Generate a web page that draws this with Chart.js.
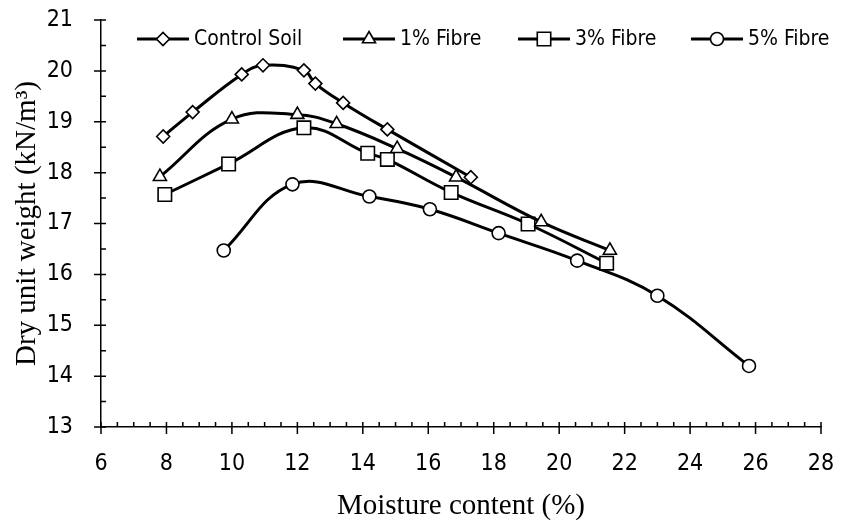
<!DOCTYPE html>
<html>
<head>
<meta charset="utf-8">
<script src="https://cdn.jsdelivr.net/npm/chart.js@4.4.0/dist/chart.umd.min.js"></script>
<style>
  html, body { margin: 0; padding: 0; background: #fff; }
  #wrap { width: 843px; height: 524px; }
</style>
</head>
<body>
<div id="wrap"><canvas id="chart" width="843" height="524"></canvas></div>
<script>
// series
const seriesNames = ['Control Soil', '1% Fibre', '3% Fibre', '5% Fibre'];

const controlMoisture = [7.9, 8.8, 10.3, 10.95, 12.2, 12.55, 13.4, 14.75, 17.3];
const controlDensity = [18.71, 19.19, 19.93, 20.11, 20.01, 19.75, 19.37, 18.85, 17.91];

const fibre1Moisture = [7.8, 10.0, 12.0, 13.2, 15.05, 16.85, 19.45, 21.55];
const fibre1Density = [17.92, 19.05, 19.14, 18.96, 18.47, 17.91, 17.03, 16.47];

const fibre3Moisture = [7.95, 9.9, 12.2, 14.15, 14.75, 16.7, 19.05, 21.45];
const fibre3Density = [17.57, 18.17, 18.88, 18.38, 18.26, 17.61, 16.99, 16.22];

const fibre5Moisture = [9.75, 11.85, 14.2, 16.05, 18.15, 20.55, 23.0, 25.8];
const fibre5Density = [16.47, 17.77, 17.53, 17.28, 16.81, 16.27, 15.58, 14.2];

const xTicks = [6, 8, 10, 12, 14, 16, 18, 20, 22, 24, 26, 28];
const yTicks = [13, 14, 15, 16, 17, 18, 19, 20, 21];

const pointStyles = ['rectRot', 'triangle', 'rect', 'circle'];
const pointRadii = [6.5, 7.5, 9.5, 6.5];

const TICK_FONT = { family: "'Liberation Sans Narrow', 'DejaVu Sans Condensed', sans-serif", size: 23 };
const LEGEND_FONT = "21px 'Liberation Sans Narrow', 'DejaVu Sans Condensed', sans-serif";
const TITLE_FONT = { family: "'Liberation Serif', 'Times New Roman', serif", size: 29 };

const pairUp = (xs, ys) => xs.map((x, i) => ({ x, y: ys[i] }));

const allSeries = [
  pairUp(controlMoisture, controlDensity),
  pairUp(fibre1Moisture, fibre1Density),
  pairUp(fibre3Moisture, fibre3Density),
  pairUp(fibre5Moisture, fibre5Density),
];

const datasets = allSeries.map((data, i) => ({
  label: seriesNames[i],
  data,
  borderColor: '#000',
  borderWidth: 3,
  backgroundColor: '#fff',
  pointStyle: pointStyles[i],
  pointRadius: pointRadii[i],
  pointBorderWidth: 1.6,
  pointBackgroundColor: '#fff',
  pointBorderColor: '#000',
  tension: 0.4,
  fill: false,
}));

// tick marks: majors cross the axis, minors sit inside
const axisTicks = {
  id: 'axisTicks',
  afterDraw(chart) {
    const { ctx, scales: { x, y } } = chart;
    const axisY = y.getPixelForValue(yTicks[0]);
    const axisX = x.getPixelForValue(xTicks[0]);
    ctx.save();
    ctx.strokeStyle = '#000';
    ctx.lineWidth = 1.5;
    ctx.beginPath();
    for (let v = xTicks[0]; v <= xTicks[xTicks.length - 1] + 1e-6; v += 0.5) {
      const px = x.getPixelForValue(v);
      const major = xTicks.includes(v);
      ctx.moveTo(px, axisY - 5);
      ctx.lineTo(px, major ? axisY + 7 : axisY);
    }
    for (let v = yTicks[0]; v <= yTicks[yTicks.length - 1] + 1e-6; v += 0.5) {
      const py = y.getPixelForValue(v);
      const major = yTicks.includes(v);
      ctx.moveTo(major ? axisX - 7 : axisX, py);
      ctx.lineTo(axisX + 5, py);
    }
    ctx.stroke();
    ctx.restore();
  },
};

// legend drawn inside the plot, line + marker + label
const legendStartX = [137, 343, 518, 691];
const inlineLegend = {
  id: 'inlineLegend',
  afterDraw(chart) {
    const { ctx } = chart;
    const yMid = 39;
    ctx.save();
    chart.data.datasets.forEach((ds, i) => {
      const x0 = legendStartX[i];
      ctx.strokeStyle = '#000';
      ctx.lineWidth = 3;
      ctx.beginPath();
      ctx.moveTo(x0, yMid);
      ctx.lineTo(x0 + 52, yMid);
      ctx.stroke();
      ctx.fillStyle = '#fff';
      ctx.lineWidth = 1.6;
      Chart.helpers.drawPoint(ctx, {
        pointStyle: ds.pointStyle,
        radius: ds.pointRadius,
        borderWidth: 1.6,
        rotation: 0,
      }, x0 + 26, yMid);
      ctx.fillStyle = '#000';
      ctx.font = LEGEND_FONT;
      ctx.textBaseline = 'middle';
      ctx.textAlign = 'left';
      ctx.fillText(ds.label, x0 + 57, yMid + 1);
    });
    ctx.restore();
  },
};

new Chart(document.getElementById('chart'), {
  type: 'line',
  data: { datasets },
  options: {
    responsive: false,
    animation: false,
    layout: { padding: { top: 20, right: 22, left: 0, bottom: 0 } },
    plugins: {
      legend: { display: false },
      tooltip: { enabled: false },
    },
    scales: {
      x: {
        type: 'linear',
        min: xTicks[0],
        max: xTicks[xTicks.length - 1],
        grid: { display: false },
        border: { display: true, color: '#000', width: 1.5 },
        afterBuildTicks: (s) => { s.ticks = xTicks.map((v) => ({ value: v })); },
        ticks: { color: '#000', font: TICK_FONT, padding: 15, maxRotation: 0 },
        title: {
          display: true,
          text: 'Moisture content (%)',
          color: '#000',
          font: TITLE_FONT,
          padding: { top: 6, bottom: 0 },
        },
        afterFit: (s) => {
          s.height = 97;
          s.paddingLeft = 0;
          s.paddingRight = 0;
        },
      },
      y: {
        min: yTicks[0],
        max: yTicks[yTicks.length - 1],
        grid: { display: false },
        border: { display: true, color: '#000', width: 1.5 },
        afterBuildTicks: (s) => { s.ticks = yTicks.map((v) => ({ value: v })); },
        ticks: { color: '#000', font: TICK_FONT, padding: 20 },
        title: {
          display: true,
          text: 'Dry unit weight (kN/m³)',
          color: '#000',
          font: TITLE_FONT,
          padding: { top: 10, bottom: 0 },
        },
        afterFit: (s) => {
          s.width = 101;
          s.paddingTop = 0;
          s.paddingBottom = 0;
        },
      },
    },
  },
  plugins: [axisTicks, inlineLegend],
});
</script>
</body>
</html>
